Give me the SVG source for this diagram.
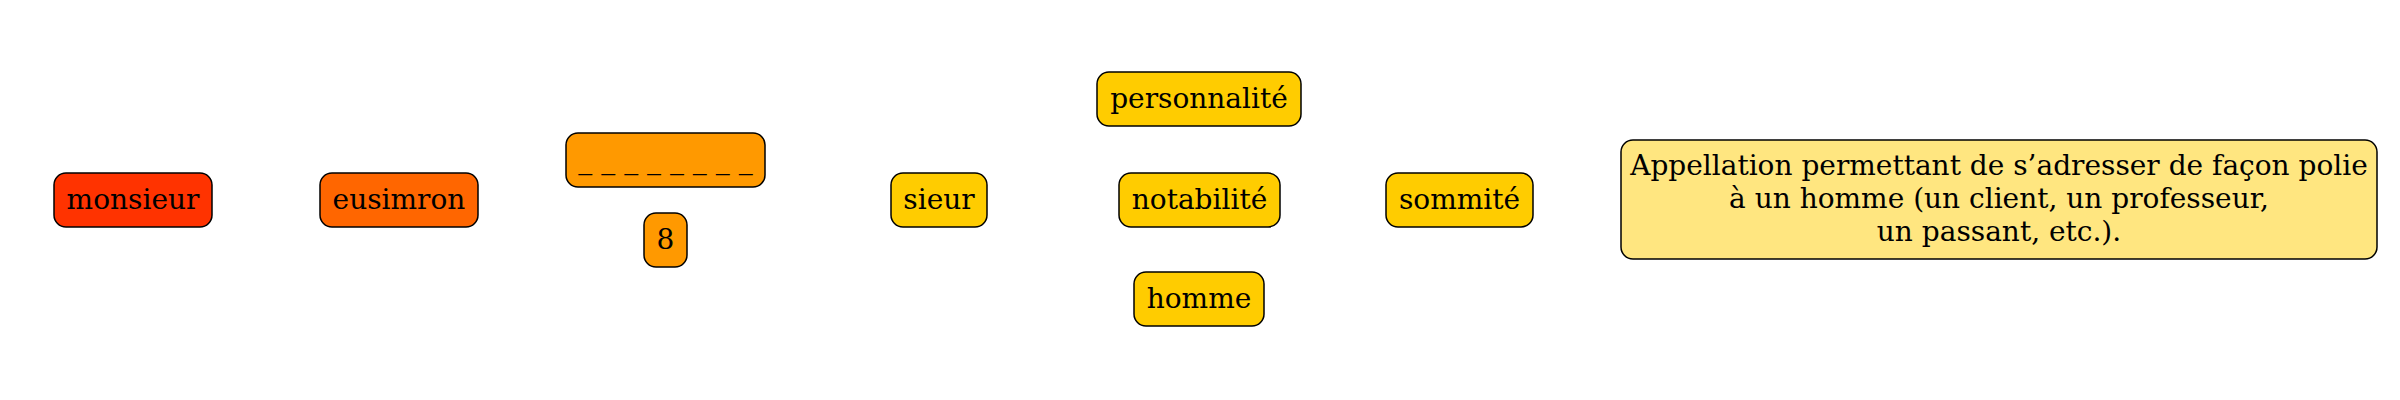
<svg xmlns="http://www.w3.org/2000/svg" width="2400" height="400" viewBox="0 0 2400 400">
<style>
  .box { stroke: #000000; stroke-width: 1.5; }
  .lbl { font-family: "DejaVu Serif", "Liberation Serif", serif; font-size: 28px; fill: #000000; text-anchor: middle; }
  .c1 { fill: #ff3300; }
  .c2 { fill: #ff6600; }
  .c3 { fill: #ff9900; }
  .c4 { fill: #ffcc00; }
  .c5 { fill: #ffe680; }
</style>
<rect width="2400" height="400" fill="#ffffff"/>
<g id="connectors"/>
<g id="monsieur">
  <rect class="box c1" x="54" y="173" width="158" height="54" rx="12"/>
  <text class="lbl" x="133" y="209">monsieur</text>
</g>
<g id="eusimron">
  <rect class="box c2" x="320" y="173" width="158" height="54" rx="12"/>
  <text class="lbl" x="399" y="209">eusimron</text>
</g>
<g id="blanks">
  <rect class="box c3" x="566" y="133" width="199" height="54" rx="12"/>
  <text class="lbl" x="665.5" y="169">_ _ _ _ _ _ _ _</text>
</g>
<g id="count">
  <rect class="box c3" x="644" y="213" width="43" height="54" rx="12"/>
  <text class="lbl" x="665.5" y="249">8</text>
</g>
<g id="sieur">
  <rect class="box c4" x="891" y="173" width="96" height="54" rx="12"/>
  <text class="lbl" x="939" y="209">sieur</text>
</g>
<g id="personnalite">
  <rect class="box c4" x="1097" y="72" width="204" height="54" rx="12"/>
  <text class="lbl" x="1199" y="108">personnalité</text>
</g>
<g id="notabilite">
  <rect class="box c4" x="1119" y="173" width="161" height="54" rx="12"/>
  <text class="lbl" x="1199.5" y="209">notabilité</text>
</g>
<g id="homme">
  <rect class="box c4" x="1134" y="272" width="130" height="54" rx="12"/>
  <text class="lbl" x="1199" y="308">homme</text>
</g>
<g id="sommite">
  <rect class="box c4" x="1386" y="173" width="147" height="54" rx="12"/>
  <text class="lbl" x="1459.5" y="209">sommité</text>
</g>
<g id="definition">
  <rect class="box c5" x="1621" y="140" width="756" height="119" rx="12"/>
  <text class="lbl" x="1999" y="175">Appellation permettant de s’adresser de façon polie</text>
  <text class="lbl" x="1999" y="208">à un homme (un client, un professeur,</text>
  <text class="lbl" x="1999" y="241">un passant, etc.).</text>
</g>
</svg>
